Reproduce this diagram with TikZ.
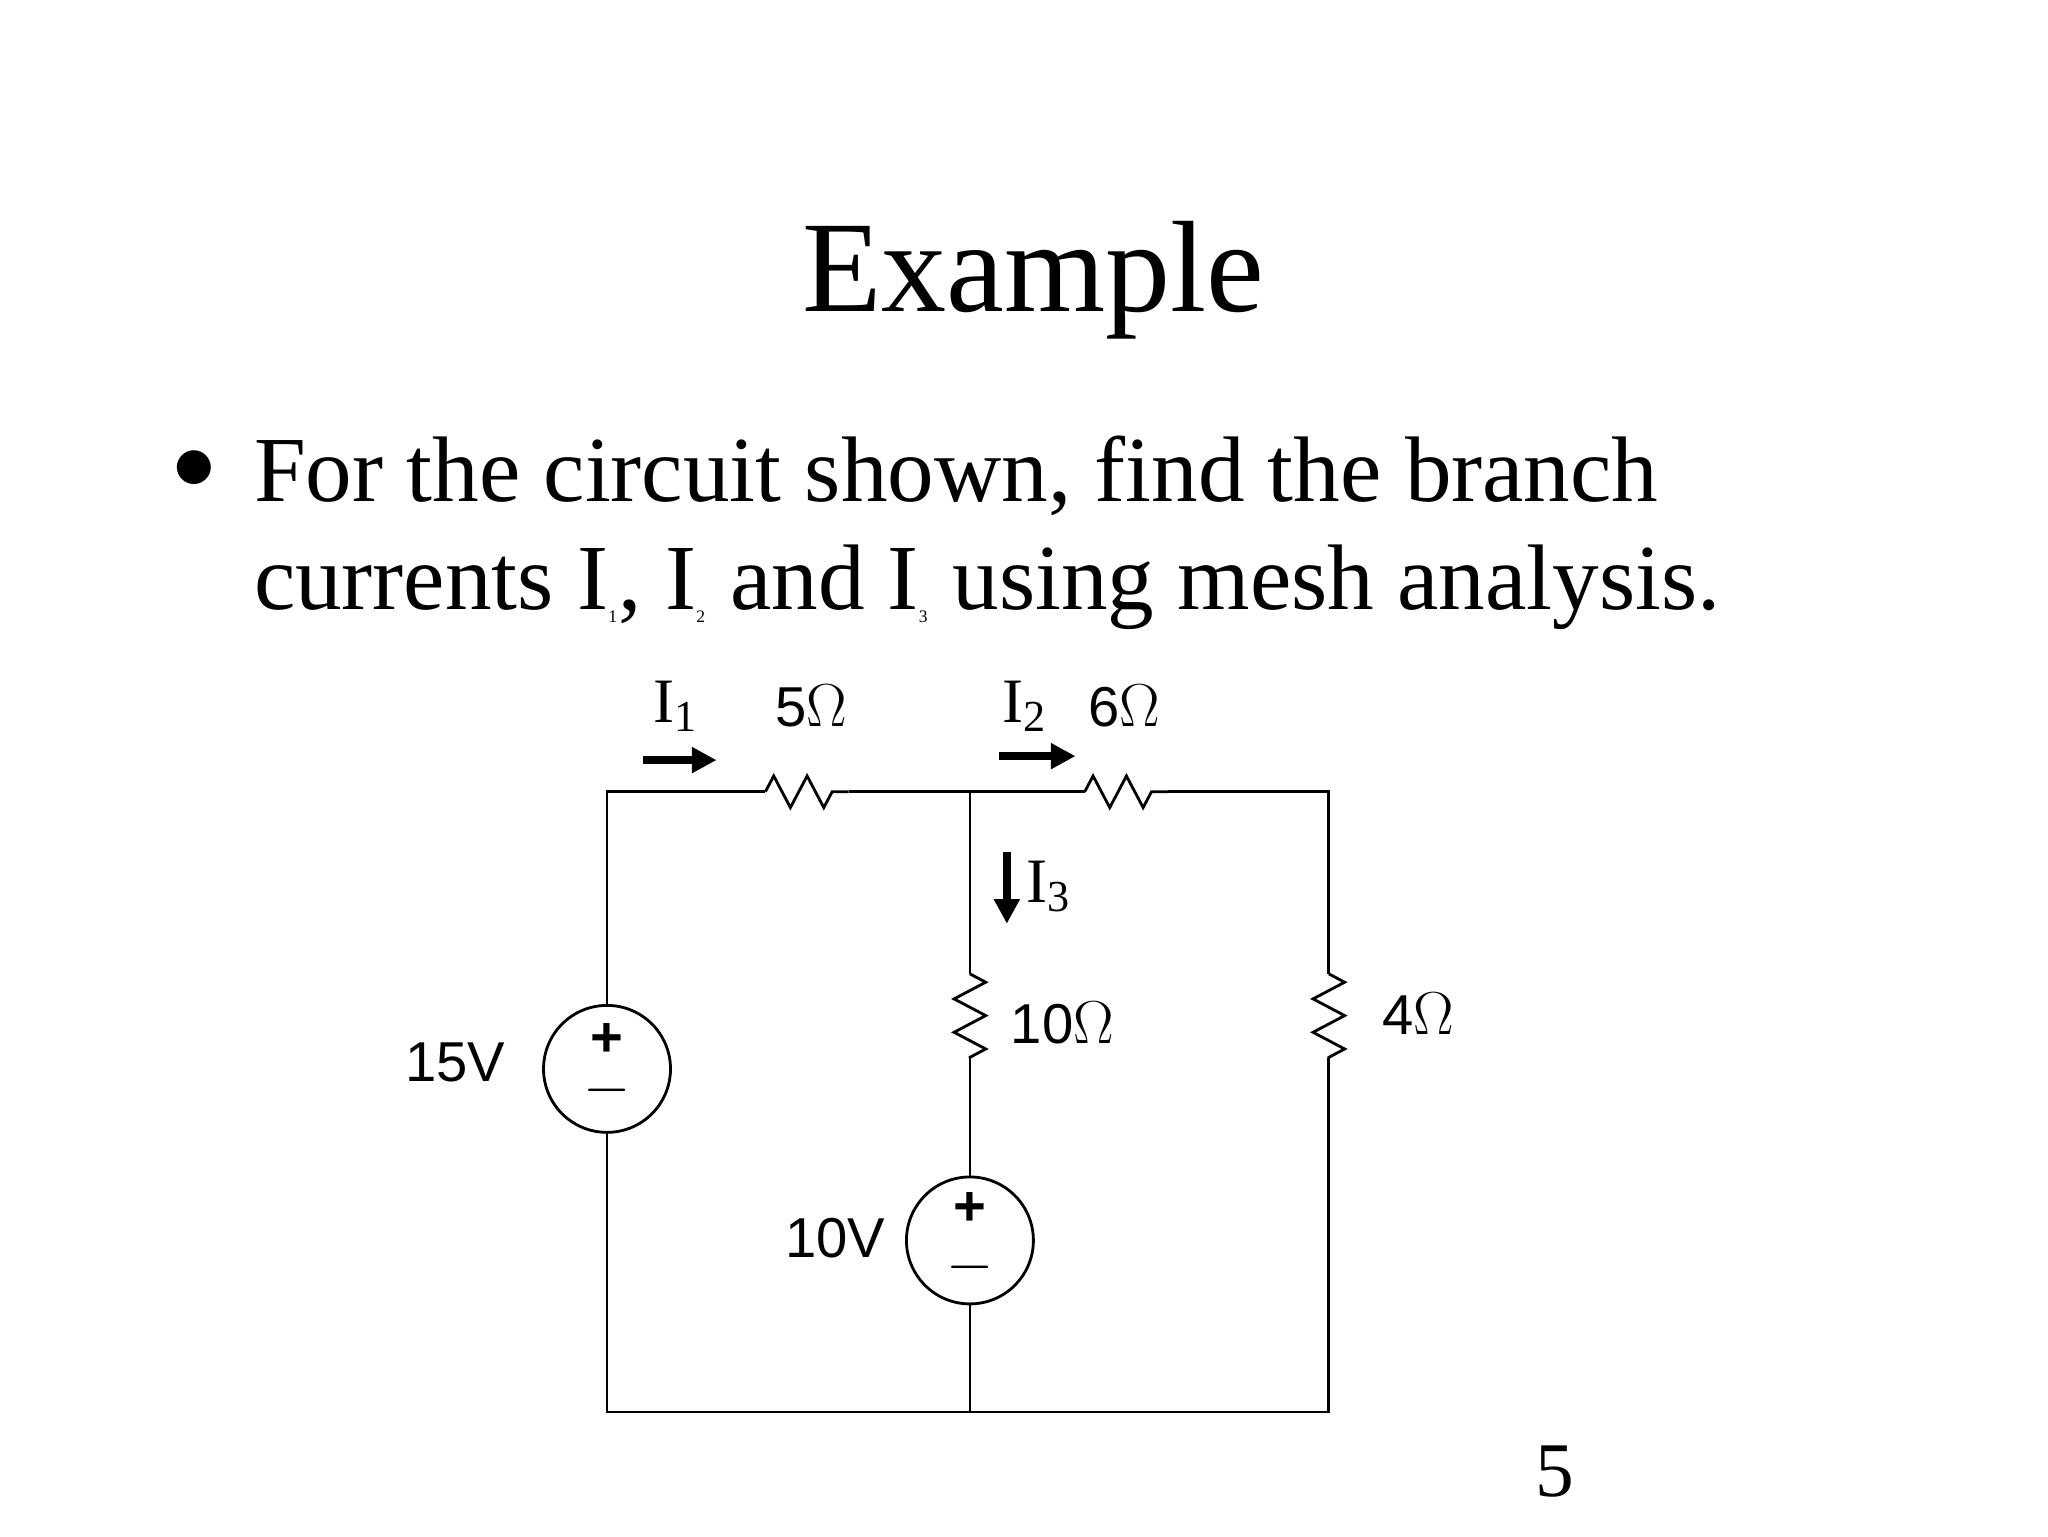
\documentclass[tikz,border=0pt]{standalone}
\usepackage{fontspec}
\setmainfont{Liberation Serif}
\newfontfamily\sansf{Liberation Sans}
\usetikzlibrary{decorations.pathmorphing,arrows.meta}

\begin{document}
\begin{tikzpicture}[x=0.0132cm,y=-0.0132cm,
    wire/.style={line width=0.8pt},
    res/.style={wire,decorate,decoration={zigzag,segment length=9.5pt,amplitude=4.5pt,pre length=0pt,post length=0pt}},
    src/.style={circle,draw,line width=0.8pt,minimum size=1.27cm,inner sep=0pt},
    val/.style={font=\sansf\fontsize{16}{18}\selectfont},
    sign/.style={font=\sansf\bfseries\fontsize{16}{16}\selectfont,inner sep=0pt},
    cur/.style={font=\fontsize{18}{20}\selectfont},
    carrow/.style={-{Triangle[length=7pt,width=7pt]},line width=2.2pt}]
\useasboundingbox (0,0) rectangle (1552,1164);

% Text
\node (title) at (783,212) {\fontsize{37}{44}\selectfont Example};
\node (dot) at (147,356) {\fontsize{26}{30}\selectfont$\bullet$};
\node[anchor=base west,inner sep=0pt] (line1) at (192,380) {\fontsize{26.5}{32}\selectfont For the circuit shown, find the branch};
\node[anchor=base west,inner sep=0pt] (line2) at (192,462) {\fontsize{26.5}{32}\selectfont currents I\textsubscript{\tiny 1}, I\textsubscript{\tiny 2} and I\textsubscript{\tiny 3} using mesh analysis.};
\node (page) at (1178,1115) {\fontsize{22}{26}\selectfont 5};

% Corners
\coordinate (tl) at (460,600);
\coordinate (tm) at (735,600);
\coordinate (tr) at (1007,600);
\coordinate (bl) at (460,1070);
\coordinate (bm) at (735,1070);
\coordinate (br) at (1007,1070);

% Sources
\node[src] (v15) at (460,810) {};
\node[sign] at (460,788) {+};
\node[sign] at (460,826) {$-$};
\node[val] (l15) at (345,805) {15V};
\node[src] (v10) at (735,940) {};
\node[sign] at (735,916) {+};
\node[sign] at (735,960) {$-$};
\node[val] (l10) at (633,938) {10V};

% Resistors
\coordinate (r5a) at (580,600); \coordinate (r5b) at (643,600);
\coordinate (r6a) at (822,600); \coordinate (r6b) at (885,600);
\coordinate (r10a) at (735,738); \coordinate (r10b) at (735,802);
\coordinate (r4a) at (1007,738); \coordinate (r4b) at (1007,802);
\draw[res] (r5a) -- (r5b);
\draw[res] (r6a) -- (r6b);
\draw[res] (r10a) -- (r10b);
\draw[res] (r4a) -- (r4b);
\node[val] at (615,535) {5$\Omega$};
\node[val] at (852,535) {6$\Omega$};
\node[val] at (805,775) {10$\Omega$};
\node[val] at (1075,768) {4$\Omega$};

% Wires
\draw[wire] (v15.north) -- (tl) -- (r5a);
\draw[wire] (r5b) -- (tm) -- (r6a);
\draw[wire] (r6b) -- (tr) -- (r4a);
\draw[wire] (tm) -- (r10a);
\draw[wire] (r10b) -- (v10.north);
\draw[wire] (v15.south) -- (bl) -- (bm) -- (br) -- (r4b);
\draw[wire] (v10.south) -- (bm);

% Currents
\coordinate (i1a) at (487,576); \coordinate (i1b) at (543,576);
\coordinate (i2a) at (757,573); \coordinate (i2b) at (815,573);
\coordinate (i3a) at (763,646); \coordinate (i3b) at (763,700);
\draw[carrow] (i1a) -- (i1b);
\draw[carrow] (i2a) -- (i2b);
\draw[carrow] (i3a) -- (i3b);
\node[cur] at (512,535) {I\textsubscript{1}};
\node[cur] at (777,535) {I\textsubscript{2}};
\node[cur] at (795,672) {I\textsubscript{3}};
\end{tikzpicture}
\end{document}
